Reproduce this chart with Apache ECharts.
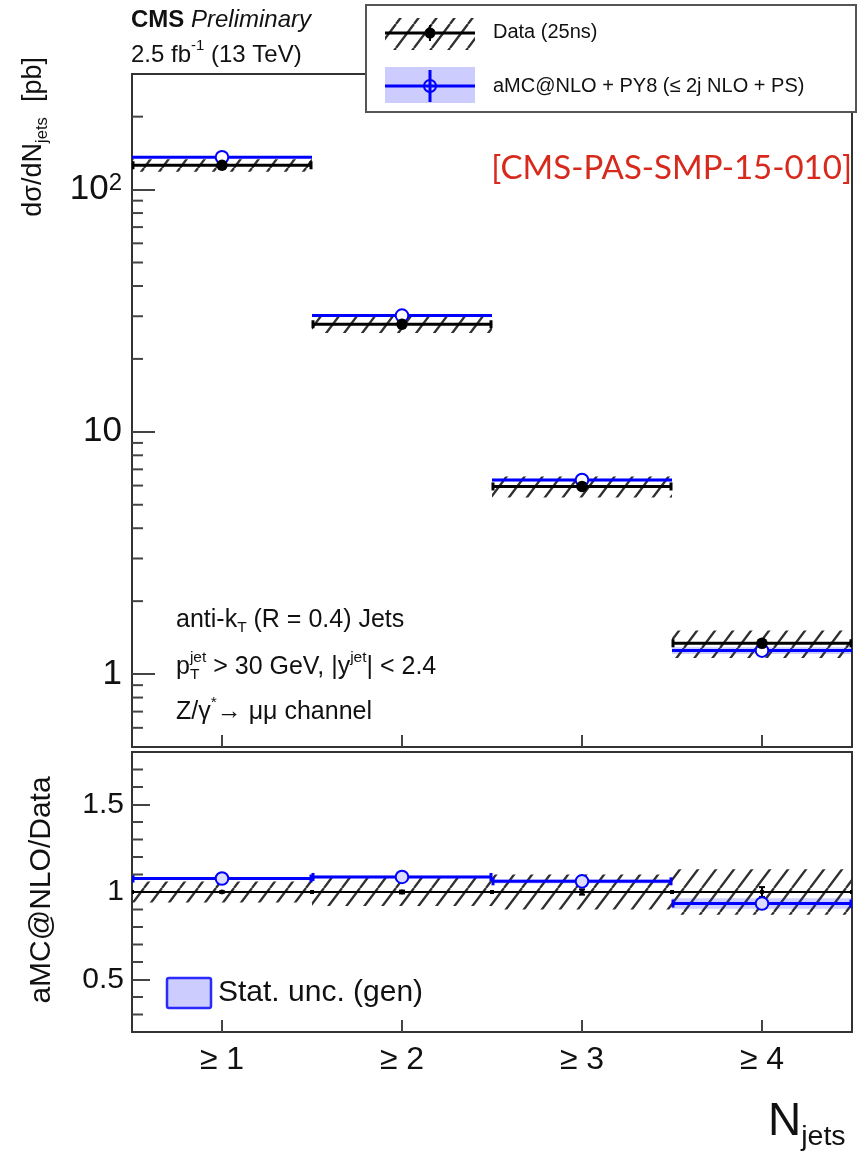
<!DOCTYPE html>
<html>
<head>
<meta charset="utf-8">
<script src="https://cdn.jsdelivr.net/npm/echarts@6/dist/echarts.min.js"></script>
<style>
  html, body { margin: 0; padding: 0; background: #fff; }
  #chart { width: 859px; height: 1157px; }
</style>
</head>
<body>
<div id="chart"></div>
<script>
const FONT = '"Liberation Sans", Arial, Helvetica, sans-serif';

// jet multiplicity bins
const categories = ['≥ 1', '≥ 2', '≥ 3', '≥ 4'];

// measured cross section dσ/dN_jets [pb] with relative uncertainties
const dataXsec    = [126, 27.8, 5.95, 1.34];
const dataStatRel = [0.004, 0.008, 0.015, 0.028];
const dataSystRel = [0.06, 0.08, 0.10, 0.13];

// aMC@NLO + PY8 prediction [pb] with relative statistical uncertainty
const mcXsec    = [136, 30.2, 6.33, 1.25];
const mcStatRel = [0.005, 0.008, 0.012, 0.032];

// ratio panel: aMC@NLO / Data
const dataRatio   = [1, 1, 1, 1];
const mcRatio     = [1.077, 1.086, 1.061, 0.934];
const mcRatioStat = [0.005, 0.008, 0.012, 0.03];

// axis ticks
const xsecMinorTicks  = [0.6, 0.7, 0.8, 0.9, 2, 3, 4, 5, 6, 7, 8, 9, 20, 30, 40, 50, 60, 70, 80, 90, 200];
const ratioMajorTicks = [0.5, 1, 1.5];
const ratioMinorTicks = [0.3, 0.4, 0.6, 0.7, 0.8, 0.9, 1.1, 1.2, 1.3, 1.4, 1.6, 1.7];

const FRAME = '#333';
const TICK = '#444';
const BLUE = '#0000ff';
const BAND_BLUE = 'rgba(40,40,255,0.22)';

// diagonal hatching used for the systematic uncertainty
function makeHatch() {
  const w = 18, h = 24;
  const c = document.createElement('canvas');
  c.width = w; c.height = h;
  const g = c.getContext('2d');
  g.strokeStyle = '#303030';
  g.lineWidth = 2.3;
  g.beginPath();
  for (const k of [-w, 0, w]) {
    g.moveTo(k, h);
    g.lineTo(k + w, 0);
  }
  g.stroke();
  return { image: c, repeat: 'repeat' };
}
const hatch = makeHatch();

// ---- custom series renderers ----
function bandItem(fill) {
  return function (params, api) {
    const i = api.value(0);
    const w = api.size([1, 0])[0];
    const top = api.coord([i, api.value(2)]);
    const bot = api.coord([i, api.value(1)]);
    return {
      type: 'rect',
      shape: { x: top[0] - w / 2, y: top[1], width: w, height: bot[1] - top[1] },
      style: { fill: fill }
    };
  };
}

function binItem(o) {
  return function (params, api) {
    const i = api.value(0);
    const w = api.size([1, 0])[0];
    const p = api.coord([i, api.value(1)]);
    const pl = api.coord([i, api.value(2)]);
    const ph = api.coord([i, api.value(3)]);
    const x0 = p[0] - w / 2, x1 = p[0] + w / 2;
    const ls = { stroke: o.color, lineWidth: o.width };
    const ch = [
      { type: 'line', shape: { x1: x0, y1: p[1], x2: x1, y2: p[1] }, style: ls }
    ];
    if (o.caps) {
      ch.push({ type: 'line', shape: { x1: x0 + 1, y1: p[1] - o.caps, x2: x0 + 1, y2: p[1] + o.caps }, style: ls });
      ch.push({ type: 'line', shape: { x1: x1 - 1, y1: p[1] - o.caps, x2: x1 - 1, y2: p[1] + o.caps }, style: ls });
    }
    ch.push({ type: 'line', shape: { x1: p[0], y1: pl[1], x2: p[0], y2: ph[1] }, style: { stroke: o.color, lineWidth: 2 } });
    ch.push({ type: 'line', shape: { x1: p[0] - 3, y1: ph[1], x2: p[0] + 3, y2: ph[1] }, style: { stroke: o.color, lineWidth: 2 } });
    ch.push({ type: 'line', shape: { x1: p[0] - 3, y1: pl[1], x2: p[0] + 3, y2: pl[1] }, style: { stroke: o.color, lineWidth: 2 } });
    if (o.r) {
      ch.push({
        type: 'circle',
        shape: { cx: p[0], cy: p[1], r: o.r },
        style: { fill: o.fill, stroke: o.stroke || o.color, lineWidth: o.sw || 0 }
      });
    }
    return { type: 'group', children: ch };
  };
}

function minorTickItem(len) {
  return function (params, api) {
    const y = api.coord([0, api.value(1)])[1];
    const x = params.coordSys.x;
    return { type: 'line', shape: { x1: x, y1: y, x2: x + len, y2: y }, style: { stroke: TICK, lineWidth: 2 } };
  };
}

function customSeries(name, gi, data, renderItem, z) {
  return {
    type: 'custom', name: name, xAxisIndex: gi, yAxisIndex: gi,
    data: data, renderItem: renderItem, z: z, silent: true, clip: true,
    encode: { x: 0, y: 1 }
  };
}

const idx = categories.map((c, i) => i);

const series = [
  // upper panel
  customSeries('Data syst', 0, idx.map(i => [i, dataXsec[i] * (1 - dataSystRel[i]), dataXsec[i] * (1 + dataSystRel[i])]), bandItem(hatch), 2),
  customSeries('MC stat', 0, idx.map(i => [i, mcXsec[i] * (1 - mcStatRel[i]), mcXsec[i] * (1 + mcStatRel[i])]), bandItem(BAND_BLUE), 3),
  customSeries('aMC@NLO + PY8', 0, idx.map(i => [i, mcXsec[i], mcXsec[i] * (1 - mcStatRel[i]), mcXsec[i] * (1 + mcStatRel[i])]),
    binItem({ color: BLUE, width: 3, r: 6.3, fill: '#fff', sw: 2 }), 4),
  customSeries('Data (25ns)', 0, idx.map(i => [i, dataXsec[i], dataXsec[i] * (1 - dataStatRel[i]), dataXsec[i] * (1 + dataStatRel[i])]),
    binItem({ color: '#000', width: 3, caps: 4, r: 5.8, fill: '#000', sw: 0 }), 5),
  customSeries('minor ticks', 0, xsecMinorTicks.map(v => [0, v]), minorTickItem(11), 6),

  // ratio panel
  customSeries('Data syst ratio', 1, idx.map(i => [i, dataRatio[i] - dataSystRel[i], dataRatio[i] + dataSystRel[i]]), bandItem(hatch), 2),
  customSeries('Data ratio', 1, idx.map(i => [i, dataRatio[i], dataRatio[i] - dataStatRel[i], dataRatio[i] + dataStatRel[i]]),
    binItem({ color: '#000', width: 2, caps: 2, r: 2.4, fill: '#000', sw: 0 }), 3),
  customSeries('MC stat ratio', 1, idx.map(i => [i, mcRatio[i] - mcRatioStat[i], mcRatio[i] + mcRatioStat[i]]), bandItem(BAND_BLUE), 4),
  customSeries('aMC@NLO / Data', 1, idx.map(i => [i, mcRatio[i], mcRatio[i] - mcRatioStat[i], mcRatio[i] + mcRatioStat[i]]),
    binItem({ color: BLUE, width: 3, caps: 4, r: 6.3, fill: '#dcdcff', sw: 2 }), 5),
  customSeries('ratio minor ticks', 1, ratioMinorTicks.map(v => [0, v]), minorTickItem(11), 6)
];

// ---- text helpers ----
const measureCtx = document.createElement('canvas').getContext('2d');
function measure(t, size, o) {
  o = o || {};
  measureCtx.font = (o.style || 'normal') + ' ' + (o.weight || 'normal') + ' ' + size + 'px ' + (o.family || FONT);
  return measureCtx.measureText(t).width;
}
function text(x, y, t, size, o) {
  o = o || {};
  return {
    type: 'text', x: x, y: y, z: 101, silent: true,
    style: {
      text: t, fontSize: size, fontFamily: o.family || FONT,
      fontWeight: o.weight || 'normal', fontStyle: o.style || 'normal',
      fill: o.color || '#111', align: o.align || 'left', verticalAlign: 'middle'
    }
  };
}
// lays out a run of text pieces with super-/subscripts
function runs(x, y, parts, size) {
  const els = [];
  let cx = x;
  const small = size * 0.62;
  parts.forEach(function (p) {
    const t = p[0], mode = p[1] || 'n', o = p[2] || {};
    if (mode === 'sup') {
      els.push(text(cx, y - size * 0.38, t, small, o));
      cx += measure(t, small, o);
    } else if (mode === 'sub') {
      els.push(text(cx, y + size * 0.32, t, small, o));
      cx += measure(t, small, o);
    } else if (mode === 'supsub') {
      els.push(text(cx, y - size * 0.38, t[0], small, o));
      els.push(text(cx, y + size * 0.32, t[1], small, o));
      cx += Math.max(measure(t[0], small, o), measure(t[1], small, o));
    } else {
      els.push(text(cx, y, t, size, o));
      cx += measure(t, size, o);
    }
  });
  return { els: els, width: cx - x };
}
function rotated(cx, cy, parts, size, anchor) {
  const r = runs(0, 0, parts, size);
  const start = anchor === 'end' ? cy + r.width : cy + r.width / 2;
  return { type: 'group', x: cx, y: start, rotation: Math.PI / 2, z: 101, children: r.els };
}

const graphic = [];
function add(list) { list.forEach(e => graphic.push(e)); }

// header
add(runs(131, 20, [['CMS', 'n', { weight: 'bold' }], [' Preliminary', 'n', { style: 'italic' }]], 24).els);
add(runs(131, 55, [['2.5 fb'], ['-1', 'sup'], [' (13 TeV)']], 24).els);

// axis titles
graphic.push(rotated(34, 57, [['dσ/dN'], ['jets', 'sub'], ['  [pb]']], 27, 'end'));
graphic.push(rotated(42, 890, [['aMC@NLO/Data']], 30, 'center'));
add(runs(768, 1122, [['N'], ['jets', 'sub']], 46).els);

// legend box
graphic.push({ type: 'rect', z: 100, silent: true, shape: { x: 366, y: 5, width: 490, height: 107 }, style: { fill: '#fff', stroke: '#555', lineWidth: 2 } });
graphic.push({ type: 'rect', z: 101, silent: true, shape: { x: 385, y: 18, width: 90, height: 32 }, style: { fill: hatch } });
graphic.push({ type: 'line', z: 102, silent: true, shape: { x1: 385, y1: 33, x2: 475, y2: 33 }, style: { stroke: '#000', lineWidth: 3 } });
graphic.push({ type: 'line', z: 102, silent: true, shape: { x1: 430, y1: 25, x2: 430, y2: 41 }, style: { stroke: '#000', lineWidth: 2 } });
graphic.push({ type: 'circle', z: 103, silent: true, shape: { cx: 430, cy: 33, r: 5.5 }, style: { fill: '#000' } });
graphic.push({ type: 'rect', z: 101, silent: true, shape: { x: 385, y: 67, width: 90, height: 36 }, style: { fill: '#ccccff' } });
graphic.push({ type: 'line', z: 102, silent: true, shape: { x1: 385, y1: 86, x2: 475, y2: 86 }, style: { stroke: BLUE, lineWidth: 3 } });
graphic.push({ type: 'line', z: 102, silent: true, shape: { x1: 430, y1: 70, x2: 430, y2: 102 }, style: { stroke: BLUE, lineWidth: 3 } });
graphic.push({ type: 'circle', z: 103, silent: true, shape: { cx: 430, cy: 86, r: 6 }, style: { fill: 'none', stroke: BLUE, lineWidth: 2 } });
graphic.push(text(493, 32, 'Data (25ns)', 20));
graphic.push(text(493, 86, 'aMC@NLO + PY8 (≤ 2j NLO + PS)', 20));

// reference tag
graphic.push(text(852, 168, '[CMS-PAS-SMP-15-010]', 33, { family: 'Lato, "Open Sans", sans-serif', color: '#d7291c', align: 'right' }));

// selection annotations
add(runs(176, 620, [['anti-k'], ['T', 'sub'], [' (R = 0.4) Jets']], 25).els);
add(runs(176, 667, [['p'], [['jet', 'T'], 'supsub'], [' > 30 GeV, |y'], ['jet', 'sup'], ['| < 2.4']], 25).els);
add(runs(176, 712, [['Z/γ'], ['*', 'sup'], ['→ μμ channel']], 25).els);

// ratio-panel legend
graphic.push({ type: 'rect', z: 101, silent: true, shape: { x: 167, y: 978, width: 44, height: 30, r: 2 }, style: { fill: '#ccccff', stroke: '#2a2aff', lineWidth: 2.5 } });
graphic.push(text(218, 993, 'Stat. unc. (gen)', 30));

const tickStyle = { color: TICK, width: 2 };

const option = {
  animation: false,
  backgroundColor: '#fff',
  textStyle: { fontFamily: FONT },
  grid: [
    { left: 132, top: 74, width: 720, height: 673, show: true, borderColor: FRAME, borderWidth: 2, backgroundColor: 'transparent' },
    { left: 132, top: 752, width: 720, height: 280, show: true, borderColor: FRAME, borderWidth: 2, backgroundColor: 'transparent' }
  ],
  xAxis: [
    {
      type: 'category', gridIndex: 0, data: categories, boundaryGap: true,
      axisLine: { show: false }, splitLine: { show: false },
      axisTick: { show: true, inside: true, alignWithLabel: true, length: 12, lineStyle: tickStyle },
      axisLabel: { show: false }
    },
    {
      type: 'category', gridIndex: 1, data: categories, boundaryGap: true,
      axisLine: { show: false }, splitLine: { show: false },
      axisTick: { show: true, inside: true, alignWithLabel: true, length: 12, lineStyle: tickStyle },
      axisLabel: { show: true, fontSize: 32, color: '#111', margin: 12, fontFamily: FONT }
    }
  ],
  yAxis: [
    {
      type: 'log', gridIndex: 0, min: 0.5, max: 300, logBase: 10,
      axisLine: { show: false }, splitLine: { show: false }, minorTick: { show: false },
      axisTick: { show: true, inside: true, length: 23, lineStyle: tickStyle },
      axisLabel: {
        fontSize: 35, color: '#111', margin: 10, fontFamily: FONT,
        showMinLabel: false, showMaxLabel: false,
        formatter: function (v) {
          const e = Math.log10(v);
          if (Math.abs(e - Math.round(e)) > 1e-6) return '';
          const n = Math.round(e);
          if (n === 0) return '1';
          if (n === 1) return '10';
          return '10{sup|' + n + '}';
        },
        rich: { sup: { fontSize: 24, verticalAlign: 'top', fontFamily: FONT, color: '#111', padding: [0, 0, 12, 0] } }
      }
    },
    {
      type: 'value', gridIndex: 1, min: 0.2, max: 1.8,
      axisLine: { show: false }, splitLine: { show: false },
      axisTick: { show: true, inside: true, length: 18, customValues: ratioMajorTicks, lineStyle: tickStyle },
      axisLabel: { customValues: ratioMajorTicks, fontSize: 30, color: '#111', margin: 8, fontFamily: FONT }
    }
  ],
  series: series,
  graphic: graphic
};

const chart = echarts.init(document.getElementById('chart'), null, { renderer: 'canvas' });
chart.setOption(option);
</script>
</body>
</html>
